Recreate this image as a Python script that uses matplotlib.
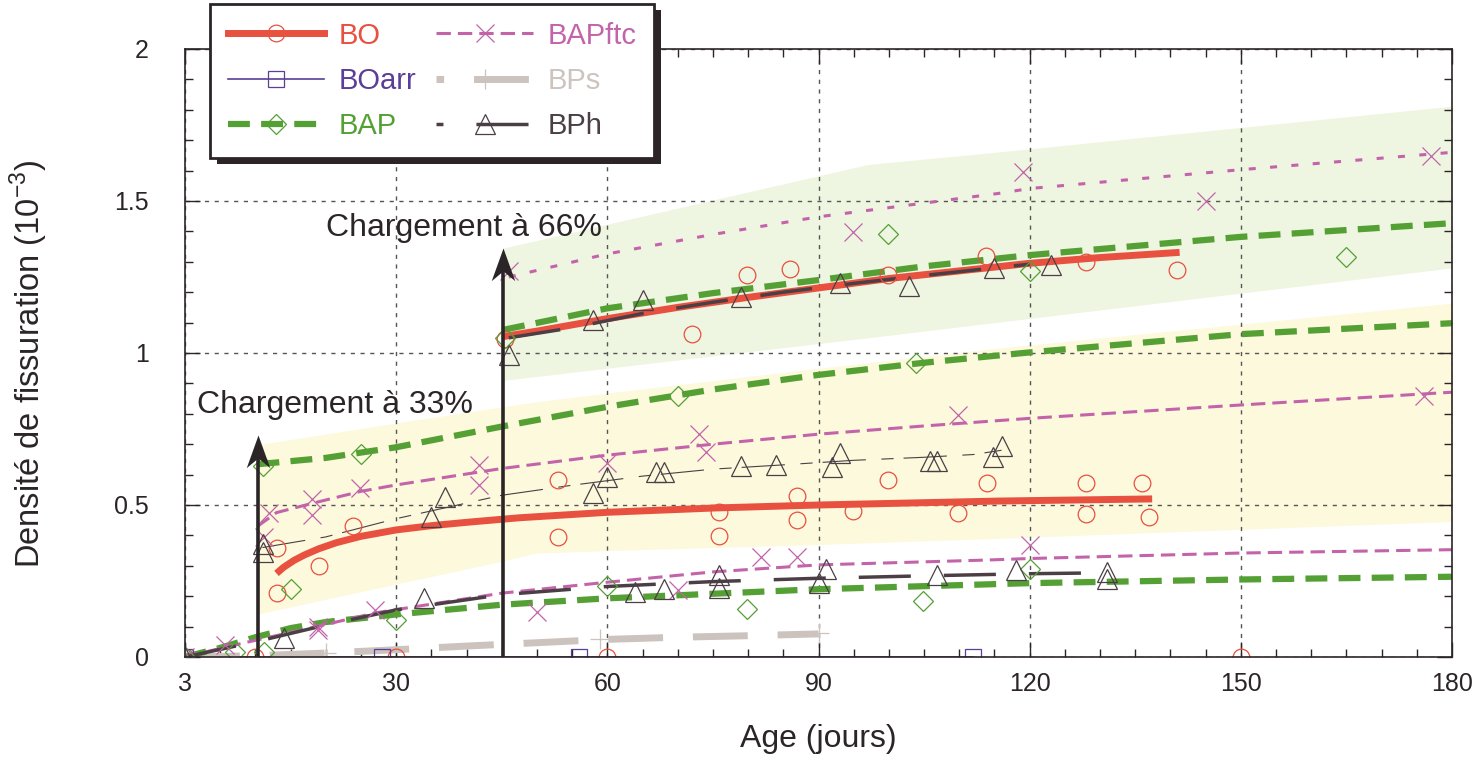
import matplotlib
matplotlib.use('Agg')
import matplotlib.pyplot as plt
from matplotlib.lines import Line2D
from matplotlib.path import Path
from matplotlib.patches import Rectangle
from matplotlib.ticker import MultipleLocator

plt.rcParams['font.family'] = ['Liberation Sans', 'DejaVu Sans']
plt.rcParams['mathtext.fontset'] = 'custom'
plt.rcParams['mathtext.rm'] = 'Liberation Sans'

# couleurs
dark = '#2B2527'
c_bo = '#E8503F'
c_boarr = '#5A3E97'
c_bap = '#55A035'
c_ftc = '#C364AA'
c_bps = '#CCC2BE'
c_bph = '#4B3F45'
c_band33 = '#FDF9DC'
c_band66 = '#EEF5E0'

# axe des x : position 0 = 3 jours
x_ticks = [0, 30, 60, 90, 120, 150, 180]
x_tick_labels = ['3', '30', '60', '90', '120', '150', '180']
y_ticks = [0, 0.5, 1, 1.5, 2]
y_tick_labels = ['0', '0.5', '1', '1.5', '2']

# bandes
band33_x = [10.3, 30, 45, 50, 60, 90, 115, 150, 180]
band33_top = [0.698, 0.77, 0.823, 0.84, 0.868, 0.95, 1.015, 1.095, 1.164]
band33_bot = [0.141, 0.24, 0.315, 0.342, 0.35, 0.37, 0.39, 0.42, 0.446]
band66_x = [45.2, 97, 115, 180]
band66_top = [1.345, 1.62, 1.66, 1.812]
band66_bot = [0.91, 1.05, 1.10, 1.28]

# BO
bo_hi_x = [45.2, 50, 60, 70, 80, 90, 100, 110, 120, 130, 141.3]
bo_hi_y = [1.054, 1.072, 1.113, 1.15, 1.183, 1.214, 1.245, 1.27, 1.295, 1.314, 1.331]
bo_lo_x = [13, 14, 15.5, 17, 19, 21.5, 25, 30, 35, 40, 47.5, 60, 75, 90, 115.6, 137.4]
bo_lo_y = [0.275, 0.295, 0.318, 0.336, 0.356, 0.376, 0.397, 0.418, 0.432, 0.443, 0.458, 0.476, 0.49,
           0.50, 0.513, 0.52]
bo_pts_x = [0, 10, 13, 13, 19, 23.9, 30, 53, 53, 60, 75.9, 75.9, 86.9, 86.9, 94.9, 99.9,
            109.8, 113.9, 128, 128, 136, 137, 150, 45.5, 72, 79.9, 85.9, 99.9, 113.8, 128, 141]
bo_pts_y = [0, 0, 0.357, 0.21, 0.30, 0.432, 0, 0.582, 0.396, 0, 0.476, 0.398, 0.531, 0.451, 0.48, 0.582,
            0.475, 0.573, 0.574, 0.472, 0.572, 0.46, 0, 1.045, 1.061, 1.258, 1.275, 1.257, 1.32, 1.298, 1.274]

# BOarr
boarr_x = [0, 28, 56, 112]
boarr_y = [0, 0, 0, 0]

# BAP
bap_hi_x = [45.2, 60, 75, 90, 105, 120, 150, 180]
bap_hi_y = [1.076, 1.147, 1.197, 1.24, 1.285, 1.322, 1.382, 1.427]
bap_mid_x = [10.3, 20, 30, 45, 60, 75, 90, 105, 120, 150, 180]
bap_mid_y = [0.634, 0.655, 0.69, 0.758, 0.823, 0.88, 0.928, 0.968, 1.002, 1.062, 1.098]
bap_lo_x = [0, 5, 10, 15, 20, 30, 45, 60, 90, 120, 150, 180]
bap_lo_y = [0, 0.03, 0.065, 0.095, 0.115, 0.14, 0.172, 0.193, 0.223, 0.243, 0.255, 0.264]
bap_pts_x = [0, 7.1, 11.2, 11.1, 15, 25, 30, 45.4, 60, 70, 79.9, 99.9, 103.9, 104.9, 120, 120, 165]
bap_pts_y = [0, 0.017, 0.017, 0.628, 0.224, 0.668, 0.122, 1.05, 0.234, 0.857, 0.158, 1.391, 0.966,
             0.185, 1.271, 0.291, 1.317]

# BAPftc
ftc_hi_x = [46, 60, 75, 90, 115.6, 120, 150, 180]
ftc_hi_y = [1.25, 1.326, 1.39, 1.448, 1.525, 1.541, 1.603, 1.66]
ftc_mid_x = [10.3, 13, 18, 25, 30, 45, 60, 75, 90, 105, 120, 150, 180]
ftc_mid_y = [0.43, 0.475, 0.505, 0.545, 0.566, 0.62, 0.664, 0.70, 0.733, 0.76, 0.785, 0.829, 0.871]
ftc_lo_x = [0, 6, 18.7, 27, 45, 60, 75, 90, 114, 120, 150, 180]
ftc_lo_y = [0, 0.034, 0.10, 0.145, 0.21, 0.246, 0.28, 0.303, 0.319, 0.324, 0.342, 0.353]
ftc_pts_x = [0, 5.7, 18.9, 18.9, 27, 11.2, 11.9, 18, 18, 24.9, 41.8, 41.8, 59.9, 73, 74, 109.8,
             50, 70, 81.9, 86.9, 94.9, 46, 119, 145, 177, 176, 120]
ftc_pts_y = [0, 0.039, 0.1, 0.09, 0.155, 0.396, 0.473, 0.521, 0.467, 0.555, 0.632, 0.566, 0.637, 0.735,
             0.675, 0.796, 0.149, 0.22, 0.328, 0.328, 1.397, 1.27, 1.594, 1.499, 1.648, 0.859, 0.368]

# BPs
bps_x = [0, 10, 20, 30, 40, 50, 60, 70, 80, 90]
bps_y = [0, 0.004, 0.013, 0.024, 0.036, 0.047, 0.058, 0.065, 0.07, 0.076]
bps_pts_x = [0, 20, 59, 90]
bps_pts_y = [0, 0.012, 0.058, 0.079]

# BPh
bph_hi_x = [46, 55, 65, 75, 85, 95, 105, 115, 120]
bph_hi_y = [1.05, 1.083, 1.13, 1.167, 1.20, 1.229, 1.255, 1.28, 1.292]
bph_mid_x = [11, 20, 30, 45, 55, 65, 75, 85, 95, 105, 112, 116]
bph_mid_y = [0.36, 0.395, 0.455, 0.532, 0.565, 0.595, 0.618, 0.632, 0.647, 0.657, 0.666, 0.68]
bph_lo_x = [0, 10, 20, 30, 45, 60, 75, 90, 105, 120, 131]
bph_lo_y = [0, 0.05, 0.105, 0.155, 0.205, 0.232, 0.248, 0.259, 0.267, 0.274, 0.277]
bph_pts_x = [0, 14, 34, 11.1, 11.1, 35, 36.9, 58, 60, 66.9, 68, 79, 83.9, 91.9, 93, 105.9, 106.9, 114.8,
             116, 64, 68, 75.9, 75.9, 90, 91, 106.9, 118, 131, 131, 46, 58, 65, 79, 93, 102.8, 115, 123]
bph_pts_y = [0, 0.061, 0.193, 0.372, 0.346, 0.461, 0.527, 0.541, 0.593, 0.607, 0.609, 0.628, 0.632,
             0.626, 0.67, 0.646, 0.646, 0.659, 0.694, 0.213, 0.225, 0.27, 0.226, 0.242, 0.288, 0.27,
             0.285, 0.281, 0.255, 0.993, 1.109, 1.174, 1.185, 1.229, 1.22, 1.281, 1.289]

# chargements
load_x = [10.3, 45.2]
load_top = [0.73, 1.345]
load_labels = ['Chargement à 33%', 'Chargement à 66%']
load_label_pos = [(1.7, 0.83), (20.1, 1.41)]

# styles
ls_bap = (0, (3.5, 1.8))
ls_ftc = (0, (4.7, 2.3))
ls_ftc_dot = (0, (2.3, 4.7))
ls_bps = (0, (7.9, 4.3))
ls_bph = (0, (15, 9.5))
ls_bph_thin = (0, (39, 14, 11, 9))

fig = plt.figure(figsize=(14.8, 7.61), dpi=100)
ax = fig.add_axes([185 / 1480, 1 - 657 / 761, (1452 - 185) / 1480, (657 - 49) / 761])

ax.fill_between(band33_x, band33_bot, band33_top, color=c_band33, lw=0, zorder=0.5)
ax.fill_between(band66_x, band66_bot, band66_top, color=c_band66, lw=0, zorder=0.5)

mk = dict(mfc='none', mew=0.9, ls='none')

# courbes
ax.plot(boarr_x, boarr_y, color=c_boarr, lw=1.2, zorder=1.8)
ax.plot(bps_x, bps_y, color=c_bps, lw=5, ls=ls_bps)
ax.plot(bap_lo_x, bap_lo_y, color=c_bap, lw=4.5, ls=ls_bap)
ax.plot(bap_mid_x, bap_mid_y, color=c_bap, lw=4.5, ls=ls_bap)
ax.plot(ftc_lo_x, ftc_lo_y, color=c_ftc, lw=2.2, ls=ls_ftc)
ax.plot(ftc_mid_x, ftc_mid_y, color=c_ftc, lw=2.2, ls=ls_ftc)
ax.plot(ftc_hi_x, ftc_hi_y, color=c_ftc, lw=2.2, ls=ls_ftc_dot)
ax.plot(bo_lo_x, bo_lo_y, color=c_bo, lw=5, solid_capstyle='butt')
ax.plot(bo_hi_x, bo_hi_y, color=c_bo, lw=5, solid_capstyle='butt')
ax.plot(bap_hi_x, bap_hi_y, color=c_bap, lw=4.5, ls=ls_bap)
ax.plot(bph_lo_x, bph_lo_y, color=c_bph, lw=2.5, ls=ls_bph)
ax.plot(bph_hi_x, bph_hi_y, color=c_bph, lw=2.5, ls=ls_bph)
ax.plot(bph_mid_x, bph_mid_y, color=c_bph, lw=0.8, ls=ls_bph_thin)

# points
ax.plot(bo_pts_x, bo_pts_y, marker='o', ms=12, mec=c_bo, **mk)
ax.plot(boarr_x, boarr_y, marker='s', ms=11, mec=c_boarr, **mk)
ax.plot(bap_pts_x, bap_pts_y, marker='D', ms=10, mec=c_bap, **mk)
ax.plot(ftc_pts_x, ftc_pts_y, marker='x', ms=13, mec=c_ftc, **mk)
ax.plot(bps_pts_x, bps_pts_y, marker='+', ms=14, mec=c_bps, **mk)
ax.plot(bph_pts_x, bph_pts_y, marker='^', ms=15, mec=c_bph, **mk)

# flèches de chargement
head = Path([(0, 0), (-0.36, -1), (0, -0.7), (0.36, -1), (0, 0)],
            [Path.MOVETO, Path.LINETO, Path.LINETO, Path.LINETO, Path.CLOSEPOLY])
for x, top, lab, pos in zip(load_x, load_top, load_labels, load_label_pos):
    ax.plot([x, x], [0, top - 0.03], color=dark, lw=2.6, solid_capstyle='butt', zorder=4)
    ax.plot([x], [top], marker=head, ms=47, color=dark, mew=0, ls='none', zorder=4)
    ax.text(pos[0], pos[1], lab, fontsize=23, color=dark, ha='left', va='center', zorder=5)

ax.set_xlim(0, 180)
ax.set_ylim(0, 2)
ax.set_xticks(x_ticks)
ax.set_xticklabels(x_tick_labels)
ax.set_yticks(y_ticks)
ax.set_yticklabels(y_tick_labels)
ax.xaxis.set_minor_locator(MultipleLocator(5))
ax.yaxis.set_minor_locator(MultipleLocator(0.1))
ax.tick_params(which='both', direction='in', top=True, right=True, color=dark, width=1)
ax.tick_params(which='major', length=11, labelsize=18, labelcolor=dark)
ax.tick_params(which='minor', length=5.5)
ax.tick_params(axis='x', which='major', pad=11)
ax.tick_params(axis='y', which='major', pad=26)
for s in ax.spines.values():
    s.set_color(dark)
    s.set_linewidth(1.2)

ax.grid(True, which='major', color='#555555', ls=(0, (3, 4)), lw=1)
ax.set_axisbelow('line')

ax.set_xlabel('Age (jours)', fontsize=23, color=dark, labelpad=20)
ax.set_ylabel('Densité de fissuration (10$^{-3}$)', fontsize=23.5, color=dark)
ax.yaxis.set_label_coords(-0.1066, 0.482)

# légende (décalage des tirets pour BPs et BPh comme dans l'original)
handles = [
    Line2D([], [], color=c_bo, lw=5, marker='o', ms=12, mfc='none', mec=c_bo, mew=0.9),
    Line2D([], [], color=c_boarr, lw=1.2, marker='s', ms=11, mfc='none', mec=c_boarr, mew=0.9),
    Line2D([], [], color=c_bap, lw=4.5, ls=ls_bap, marker='D', ms=10, mfc='none', mec=c_bap, mew=0.9),
    Line2D([], [], color=c_ftc, lw=2.2, ls=ls_ftc, marker='x', ms=13, mec=c_ftc, mew=0.9),
    Line2D([], [], color=c_bps, lw=5, ls=(6.8, (7.9, 4.3)), marker='+', ms=14, mec=c_bps, mew=0.9),
    Line2D([], [], color=c_bph, lw=2.5, ls=(13, (15, 9.5)), marker='^', ms=15, mfc='none',
           mec=c_bph, mew=0.9),
]
labels = ['BO', 'BOarr', 'BAP', 'BAPftc', 'BPs', 'BPh']
text_colors = [c_bo, c_boarr, c_bap, c_ftc, '#CDC3BF', c_bph]
leg = fig.legend(handles, labels, ncol=2, loc='upper left',
                 bbox_to_anchor=(210 / 1480, 1 - 4 / 761), bbox_transform=fig.transFigure,
                 fontsize=21, frameon=True, fancybox=False, framealpha=1, edgecolor=dark,
                 handlelength=3.3, handletextpad=0.5, columnspacing=0.7, labelspacing=0.6,
                 borderpad=0.6, borderaxespad=0, numpoints=1)
leg.get_frame().set_linewidth(2)
for t, c in zip(leg.get_texts(), text_colors):
    t.set_color(c)

fig.canvas.draw()
bb = leg.get_window_extent()
shadow = Rectangle((bb.x0 + 7, bb.y0 - 6), bb.width, bb.height, transform=None,
                   facecolor=dark, edgecolor='none', zorder=leg.get_zorder() - 0.1)
fig.add_artist(shadow)

fig.savefig('out.png', dpi=100)
